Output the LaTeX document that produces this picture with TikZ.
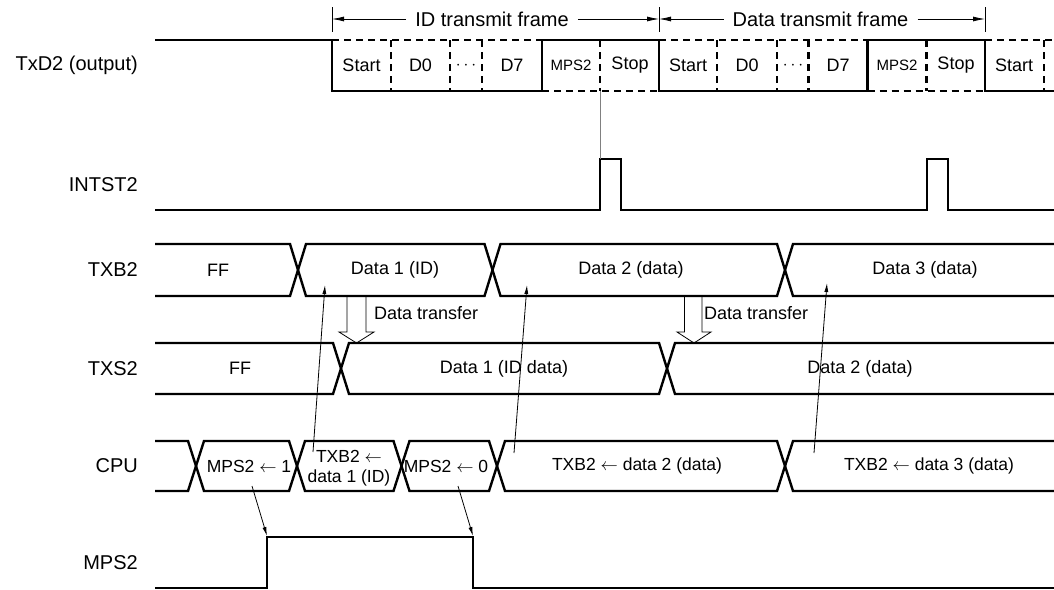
\documentclass[tikz,border=0pt]{standalone}
\usepackage{fontspec}
\setmainfont{Liberation Sans}
\usetikzlibrary{arrows.meta}

\begin{document}
\begin{tikzpicture}[x=1pt, y=-1pt,
  sig/.style={line width=2.4pt},
  dsig/.style={line width=2.4pt, dash pattern=on 7pt off 5pt},
  fine/.style={line width=0.8pt},
  arrow/.style={-{Latex[length=9pt,width=4pt]}, line width=0.8pt},
  framearrow/.style={-{Latex[length=12pt,width=5pt]}, line width=0.8pt},
  hollow/.style={line width=0.8pt, line join=miter},
  lbl/.style={anchor=east, inner sep=0pt, font=\fontsize{20}{24}\selectfont},
  txt/.style={inner sep=1pt, font=\fontsize{18}{21}\selectfont},
  frame/.style={inner sep=9pt, font=\fontsize{20}{24}\selectfont},
  cpu/.style={inner sep=1pt, align=center, font=\fontsize{17.5}{19.5}\selectfont},
  small/.style={inner sep=1pt, font=\fontsize{15}{17}\selectfont}
]
\useasboundingbox (0,0) rectangle (1054,589);

% signal names
\node[lbl] (txd) at (138,65.5) {TxD2 (output)};
\node[lbl] (intst) at (138,184.5) {INTST2};
\node[lbl] (txb) at (138,270) {TXB2};
\node[lbl] (txs) at (138,368.5) {TXS2};
\node[lbl] (cpu) at (138,466) {CPU};
\node[lbl] (mps) at (138,562.5) {MPS2};

% frames
\foreach \x in {332,659,985}
  \draw[fine] (\x,7) -- (\x,32);
\coordinate (fa) at (332,19);
\coordinate (fb) at (659,19);
\coordinate (fc) at (985,19);
\node[frame] (idframe) at (492,19) {ID transmit frame};
\node[frame] (dataframe) at (820.5,19) {Data transmit frame};
\draw[framearrow] (idframe.west) -- (fa);
\draw[framearrow] (idframe.east) -- (fb);
\draw[framearrow] (dataframe.west) -- (fb);
\draw[framearrow] (dataframe.east) -- (fc);

% TxD2
\draw[sig] (155,40) -- (332,40) -- (332,91) -- (542,91) -- (542,40) -- (659,40) -- (659,91)
  -- (867.5,91) -- (867.5,40) -- (985,40) -- (985,91) -- (1054,91);
\draw[dsig] (332,40) -- (542,40) (542,91) -- (659,91) (659,40) -- (867.5,40)
  (867.5,91) -- (985,91) (985,40) -- (1054,40);
\foreach \x in {391,450,482,600,717,777,808.5,926.5,1044}
  \draw[dsig] (\x,40) -- (\x,91);
\foreach \x/\t [count=\i] in {361.5/Start, 420.5/D0, 512/D7, 630/Stop, 688/Start, 747/D0, 838/D7, 956/Stop, 1014/Start}
  \node[txt] (bit\i) at (\x,65.5) {\t};
\node[txt] (dotsa) at (466,65.5) {$\cdots$};
\node[txt] (dotsb) at (793,65.5) {$\cdots$};
\node[small] (mpsbita) at (571,65.5) {MPS2};
\node[small] (mpsbitb) at (897,65.5) {MPS2};

% INTST2
\draw[sig] (155,210) -- (600,210) -- (600,159) -- (621,159) -- (621,210) -- (927,210)
  -- (927,159) -- (948,159) -- (948,210) -- (1054,210);
\coordinate (stopbit) at (600,91);
\coordinate (intpulse) at (600,159);
\draw[fine, gray] (stopbit) -- (intpulse);

% TXB2
\draw[sig] (155,244) -- (290,244) -- (306,296) -- (484.5,296) -- (500.5,244) -- (777,244) -- (793,296) -- (1054,296);
\draw[sig] (155,296) -- (290,296) -- (306,244) -- (484.5,244) -- (500.5,296) -- (777,296) -- (793,244) -- (1054,244);
\node[txt] (txbff) at (218,270) {FF};
\node[txt] (txbd1) at (395,270) {Data 1 (ID)};
\node[txt] (txbd2) at (631,270) {Data 2 (data)};
\node[txt] (txbd3) at (925,270) {Data 3 (data)};

% data transfer
\draw[hollow] (347,296) -- (347,332) -- (339,332) -- (356.5,343) -- (374,332) -- (366,332) -- (366,296);
\draw[hollow] (684.5,296) -- (684.5,332) -- (677,332) -- (694,343) -- (711,332) -- (702,332) -- (702,296);
\node[txt, anchor=west] (xfera) at (373,313) {Data transfer};
\node[txt, anchor=west] (xferb) at (703,313) {Data transfer};

% TXS2
\draw[sig] (155,343) -- (333,343) -- (349,394) -- (659,394) -- (675,343) -- (1054,343);
\draw[sig] (155,394) -- (333,394) -- (349,343) -- (659,343) -- (675,394) -- (1054,394);
\node[txt] (txsff) at (240,368.5) {FF};
\node[txt] (txsd1) at (504,368.5) {Data 1 (ID data)};
\node[txt] (txsd2) at (860,368.5) {Data 2 (data)};

% CPU
\draw[sig] (155,441) -- (188,441) -- (204,491) -- (289,491) -- (305,441) -- (393.5,441) -- (409.5,491)
  -- (489,491) -- (505,441) -- (777,441) -- (793,491) -- (1054,491);
\draw[sig] (155,491) -- (188,491) -- (204,441) -- (289,441) -- (305,491) -- (393.5,491) -- (409.5,441)
  -- (489,441) -- (505,491) -- (777,491) -- (793,441) -- (1054,441);
\node[cpu] (cpua) at (249,466) {MPS2 $\leftarrow$ 1};
\node[cpu] (cpub) at (349,468) {TXB2 $\leftarrow$\\data 1 (ID)};
\node[cpu] (cpuc) at (446,466) {MPS2 $\leftarrow$ 0};
\node[cpu] (cpud) at (637,466) {TXB2 $\leftarrow$ data 2 (data)};
\node[cpu] (cpue) at (929,466) {TXB2 $\leftarrow$ data 3 (data)};

% MPS2
\draw[sig] (155,588) -- (267,588) -- (267,537) -- (473,537) -- (473,588) -- (1054,588);

% CPU writes
\coordinate (wrb) at (313,452);
\coordinate (wrd) at (514,453);
\coordinate (wre) at (814,453);
\coordinate (ina) at (325,285);
\coordinate (inb) at (527,285);
\coordinate (inc) at (827,283);
\draw[arrow] (wrb) -- (ina);
\draw[arrow] (wrd) -- (inb);
\draw[arrow] (wre) -- (inc);
\coordinate (wra) at (252,486);
\coordinate (wrc) at (458,486);
\coordinate (mpsup) at (267,536);
\coordinate (mpsdown) at (473,536);
\draw[arrow] (wra) -- (mpsup);
\draw[arrow] (wrc) -- (mpsdown);
\end{tikzpicture}
\end{document}
